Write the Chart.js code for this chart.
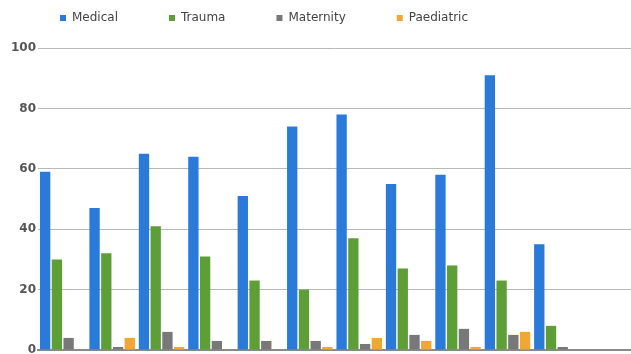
<!DOCTYPE html>
<html>
<head>
<meta charset="utf-8">
<script src="https://cdn.jsdelivr.net/npm/chart.js@4.4.1/dist/chart.umd.min.js"></script>
<style>
    html, body { margin: 0; padding: 0; background: #fff; }
    .wrap { width: 631px; height: 354px; }
</style>
</head>
<body>
<div class="wrap"><canvas id="barChart"></canvas></div>
<script>
// categorias (meses) - rótulos do eixo x não aparecem na imagem
const months = ['Jan', 'Feb', 'Mar', 'Apr', 'May', 'Jun', 'Jul', 'Aug', 'Sep', 'Oct', 'Nov', 'Dec'];

const medical    = [59, 47, 65, 64, 51, 74, 78, 55, 58, 91, 35, 0];
const trauma     = [30, 32, 41, 31, 23, 20, 37, 27, 28, 23, 8, 0];
const maternity  = [4, 1, 6, 3, 3, 3, 2, 5, 7, 5, 1, 0];
const paediatric = [0, 4, 1, 0, 0, 1, 4, 3, 1, 6, 0, 0];

const yTicks = [0, 20, 40, 60, 80, 100];

Chart.defaults.font.family = "'DejaVu Sans', sans-serif";
Chart.defaults.font.size = 12;
Chart.defaults.color = '#555';

// sobe a legenda (o padding grande da legenda empurra ela pra baixo)
const moveLegend = {
    id: 'moveLegend',
    afterLayout(chart) {
        chart.legend.top -= 14;
        chart.legend.bottom -= 14;
    }
};

function generateBarChart() {
    const ctx = document.getElementById('barChart').getContext('2d');

    new Chart(ctx, {
        type: 'bar',
        data: {
            labels: months,
            datasets: [
                { label: 'Medical', data: medical, backgroundColor: '#2a7ad9' },
                { label: 'Trauma', data: trauma, backgroundColor: '#5e9e36' },
                { label: 'Maternity', data: maternity, backgroundColor: '#787878' },
                { label: 'Paediatric', data: paediatric, backgroundColor: '#f1a833' }
            ]
        },
        options: {
            responsive: true,
            maintainAspectRatio: false,
            animation: false,
            datasets: {
                bar: { categoryPercentage: 0.95, barPercentage: 0.88 }
            },
            layout: {
                padding: { left: 9, top: -53, right: -8, bottom: 0 }
            },
            plugins: {
                legend: {
                    position: 'top',
                    align: 'start',
                    labels: {
                        boxWidth: 6,
                        boxHeight: 6,
                        padding: 51,
                        color: '#444',
                        font: { size: 12 }
                    }
                },
                tooltip: { enabled: false }
            },
            scales: {
                x: {
                    ticks: { display: false },
                    grid: { display: false, drawTicks: false },
                    border: { display: true, color: '#8a8a8a', width: 2 }
                },
                y: {
                    min: 0,
                    max: 100,
                    afterBuildTicks: (axis) => { axis.ticks = yTicks.map(v => ({ value: v })); },
                    afterFit: (axis) => { axis.paddingTop = 48; axis.paddingBottom = 4; },
                    ticks: { padding: 2, color: '#555', font: { size: 12, weight: 'bold' } },
                    grid: { color: '#b8b8b8', drawTicks: false },
                    border: { display: false }
                }
            }
        },
        plugins: [moveLegend]
    });
}

generateBarChart();
</script>
</body>
</html>
